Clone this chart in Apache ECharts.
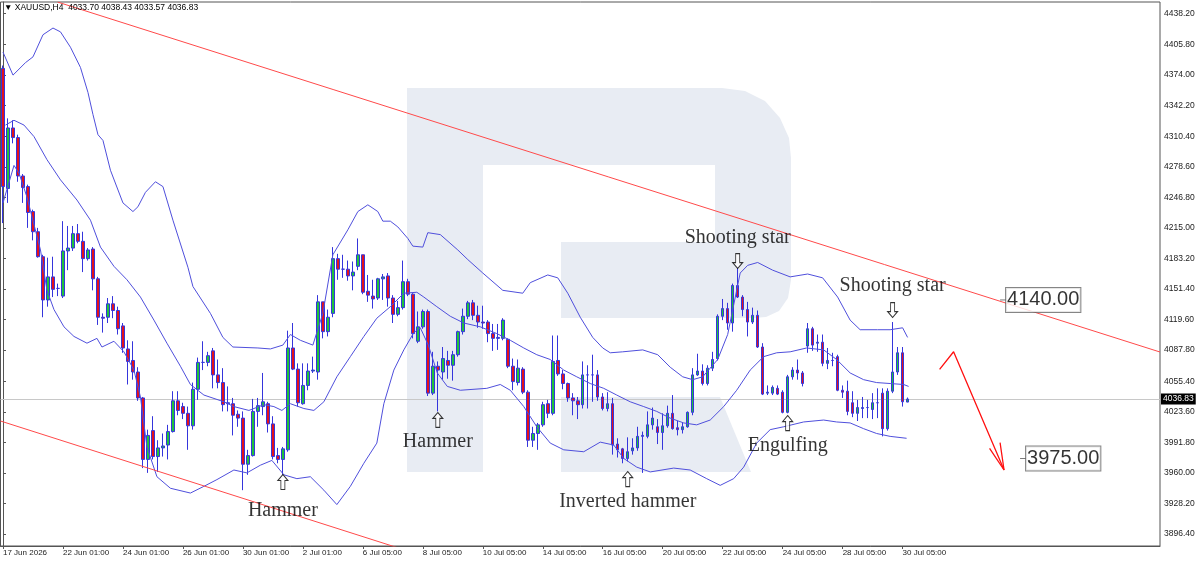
<!DOCTYPE html>
<html><head><meta charset="utf-8">
<script src="https://cdn.jsdelivr.net/npm/echarts@6/dist/echarts.min.js"></script>
<style>html,body{margin:0;padding:0;background:#fff}#c{width:1200px;height:561px}</style>
</head><body><div id="c"></div>
<script>
const symbolName = 'XAUUSD,H4';
const opens = [4381,4256,4319,4309,4269,4258,4232,4211,4185,4140,4164,4152,4144,4191,4194,4209,4201,4183,4193,4162,
4122,4122,4136,4129,4113,4089,4077,4065,4038,3974,4004,3977,3986,3989,4003,4035,4029,4022,4009,4047,
4075,4075,4087,4062,4054,4032,4032,4021,4017,3969,3978,4024,4029,4032,4011,3978,3974,3984,4090,4068,
4032,4051,4066,4065,4138,4107,4126,4183,4172,4172,4165,4175,4187,4149,4144,4142,4162,4165,4142,4125,
4132,4159,4146,4097,4112,4128,4043,4071,4065,4077,4072,4083,4107,4123,4137,4124,4117,4117,4105,4100,
4100,4099,4071,4054,4068,4044,3994,4001,4010,4032,4022,4077,4063,4053,4038,4035,4031,4062,4062,4062,
4039,4027,4032,3990,3985,3975,3983,3986,3998,3998,4010,4008,4002,4009,4022,4007,4005,4008,4023,4062,
4066,4053,4069,4079,4123,4131,4116,4155,4143,4130,4117,4124,4091,4043,4043,4048,4044,4023,4060,4067,
4064,4092,4110,4095,4096,4074,4077,4081,4046,4045,4033,4022,4027,4028,4026,4033,4043,4006,4045,4065,
4085,4033.70];
const closes = [4258,4319,4309,4269,4257,4231,4211,4185,4140,4164,4151,4152,4191,4194,4209,4201,4183,4192,4162,4122,
4121,4136,4129,4110,4090,4076,4065,4038,3974,3999,3977,3986,3988,4003,4035,4025,4022,4009,4047,4075,
4075,4082,4062,4054,4031,4033,4020,4017,3969,3978,4024,4030,4034,4011,3977,3974,3985,4090,4068,4033,
4051,4066,4067,4138,4107,4122,4183,4172,4172,4165,4169,4187,4148,4145,4141,4162,4164,4142,4125,4132,
4159,4146,4105,4112,4128,4043,4071,4067,4079,4072,4083,4107,4123,4137,4124,4117,4116,4105,4100,4101,
4119,4071,4055,4069,4044,3994,4001,4010,4031,4022,4076,4063,4053,4038,4035,4031,4062,4062,4062,4039,
4027,4032,3989,3984,3975,3982,3986,3998,3999,4010,4017,4002,4009,4022,4006,4005,4008,4023,4062,4066,
4053,4069,4078,4123,4131,4116,4155,4143,4130,4117,4124,4091,4042,4044,4049,4042,4023,4060,4067,4064,
4053,4110,4093,4096,4074,4077,4077,4046,4044,4024,4022,4028,4028,4028,4033,4033,4006,4045,4065,4085,
4034,4036.83];
const lows = [4220,4241,4303,4263,4241,4215,4202,4184,4122,4133,4143,4144,4142,4171,4191,4199,4169,4181,4150,4114,
4106,4116,4121,4104,4085,4052,4057,4035,3965,3960,3974,3961,3977,3974,4002,4020,4016,3984,4005,4036,
4067,4071,4048,4048,4024,4024,3999,4008,3942,3958,3977,4008,4020,4002,3974,3970,3958,3982,4067,4029,
4031,4046,4064,4057,4100,4102,4122,4161,4163,4160,4150,4171,4146,4138,4131,4140,4140,4133,4116,4123,
4130,4144,4100,4095,4110,4040,4041,4024,4057,4058,4056,4081,4104,4120,4119,4111,4110,4096,4087,4088,
4098,4069,4046,4051,4042,3987,3987,3984,4008,4017,4020,4061,4047,4034,4020,4016,4027,4027,4034,4035,
4025,4024,3979,3976,3970,3972,3979,3983,3960,3996,4005,3990,3984,4007,4005,3999,4001,4007,4020,4061,
4051,4051,4066,4077,4119,4109,4107,4142,4123,4102,4115,4090,4041,4041,4041,4041,4022,4022,4057,4057,
4050,4085,4087,4086,4071,4068,4071,4045,4038,4020,4018,4014,4017,4017,4016,4017,3998,4004,4043,4062,
4029,4033.57];
const highs = [4384,4329,4327,4312,4271,4260,4234,4215,4187,4184,4185,4157,4222,4217,4217,4219,4211,4194,4195,4164,
4126,4142,4144,4133,4116,4098,4097,4070,4039,4005,4019,3994,4001,4010,4045,4045,4033,4029,4054,4080,
4097,4086,4090,4078,4069,4050,4038,4025,4024,3984,4037,4038,4064,4034,4019,3986,3987,4108,4116,4074,
4074,4074,4081,4145,4138,4130,4195,4188,4187,4181,4180,4204,4187,4166,4161,4163,4167,4168,4145,4139,
4181,4162,4147,4128,4130,4130,4086,4076,4091,4087,4087,4108,4131,4139,4140,4134,4134,4119,4115,4115,
4121,4100,4079,4078,4070,4046,4008,4012,4034,4036,4103,4103,4067,4054,4043,4039,4076,4072,4083,4067,
4043,4044,4038,3996,3986,3997,3996,4008,4003,4024,4028,4016,4022,4030,4041,4014,4012,4024,4069,4084,
4073,4072,4086,4125,4141,4137,4157,4174,4145,4138,4132,4129,4095,4051,4051,4051,4046,4062,4070,4078,
4066,4116,4112,4104,4104,4090,4085,4083,4051,4056,4045,4036,4039,4036,4043,4048,4048,4048,4117,4091,
4091,4038.43];
const xTickBars = [0,12,24,36,48,60,72,84,96,108,120,132,144,156,168,180];
const xTickLabels = ['17 Jun 2026','22 Jun 01:00','24 Jun 01:00','26 Jun 01:00','30 Jun 01:00','2 Jul 01:00',
'6 Jul 05:00','8 Jul 05:00','10 Jul 05:00','14 Jul 05:00','16 Jul 05:00','20 Jul 05:00','22 Jul 05:00',
'24 Jul 05:00','28 Jul 05:00','30 Jul 05:00'];
const yTicks = [3896.40,3928.20,3960.00,3991.80,4023.60,4055.40,4087.80,4119.60,4151.40,4183.20,4215.00,
4246.80,4278.60,4310.40,4342.20,4374.00,4405.80,4438.20];
const bbUpper = [[0,4398],[2,4374],[4.5,4387],[6,4393],[8,4416],[10,4423],[11.5,4419],[13.5,4403],[15.5,4382],[17,4356],[18,4333],[19,4312],[20,4306],[21.5,4275],[24,4241],[26,4232],[27,4237],[28.5,4252],[30.5,4263],[32,4258],[34,4223],[37,4174],[38,4154],[41.5,4126],[44,4101],[46,4091],[51,4090],[53.5,4089],[56,4093],[57.5,4104],[59.5,4098],[62,4093],[64,4126],[66,4187],[69,4213],[71,4232],[73,4239],[75,4232],[76,4222],[77.5,4222],[79,4216],[81,4204],[82,4196],[84,4195],[85,4210],[87.5,4208],[91,4192],[93,4182],[96,4168],[100,4150],[104,4147],[105.5,4158],[109,4166],[111,4163],[113,4147],[115.5,4122],[118,4101],[120,4090],[121.5,4085],[124,4086],[128,4088],[131,4083],[133.5,4070],[136,4060],[138,4057],[140,4060],[143,4078],[145,4104],[147.5,4168],[149,4176],[151,4179],[154,4171],[157.5,4164],[161,4167],[164,4163],[167,4143],[169.5,4119],[171.5,4109],[175,4109],[177.5,4109],[180,4111],[181,4101]];
const bbMiddle = [[0.5,4322],[2.2,4327],[4.2,4322],[6.2,4310],[8.8,4286],[11.5,4265],[14.8,4244],[17.5,4223],[19.5,4195],[22.2,4175],[24.8,4161],[27.5,4143],[30.2,4119],[32.8,4095],[35.5,4071],[37.5,4052],[40.2,4041],[44.2,4034],[46.2,4029],[49.2,4025],[52.2,4031],[54.2,4029],[55.8,4025],[57.5,4032],[60.2,4027],[62.2,4025],[64.2,4034],[66.8,4060],[69.5,4081],[72.2,4102],[74.8,4121],[77.5,4133],[80.2,4147],[82.8,4148],[84.2,4143],[86.8,4133],[89.5,4123],[92.2,4116],[95.5,4112],[98.8,4105],[101.5,4098],[104.2,4090],[106.8,4083],[109.5,4078],[112.2,4067],[114.8,4060],[117.5,4053],[120.2,4048],[122.8,4041],[125.5,4034],[128.2,4029],[130.8,4024],[133.5,4017],[136.2,4012],[138.8,4010],[141.5,4015],[144.2,4029],[146.8,4046],[149.5,4067],[152.2,4081],[154.8,4085],[157.5,4086],[160.8,4090],[164.2,4088],[166.8,4078],[169.5,4064],[172.2,4057],[174.8,4054],[177.5,4053],[180.2,4052],[181.2,4050]];
const bbLower = [[0,4241],[2.2,4280],[3.2,4272],[4.8,4247],[7.5,4192],[8.8,4150],[10.2,4130],[12.2,4112],[14.2,4102],[16.8,4095],[18.8,4100],[19.8,4091],[22.2,4097],[24.2,4086],[26.2,4067],[27.5,4039],[28.8,3987],[30.8,3956],[33.5,3944],[37.5,3939],[40.2,3946],[42.8,3953],[46.2,3963],[48.8,3960],[51.5,3968],[53.8,3973],[56.2,3958],[58.8,3954],[61.5,3956],[64.2,3942],[66.8,3927],[69.5,3946],[72.2,3970],[74.8,3991],[76.2,4032],[78.2,4067],[80.2,4088],[82.2,4106],[83.5,4111],[85.1,4093],[86.9,4064],[88.9,4050],[91.5,4046],[96.8,4048],[99.5,4052],[101.5,4046],[104.2,4029],[106.8,4008],[109.5,3991],[112.2,3984],[116.2,3982],[119.5,3992],[122.2,3989],[124.2,3975],[126.8,3966],[129.5,3961],[134.2,3965],[137.5,3963],[140.8,3954],[143.5,3947],[146.2,3954],[148.2,3966],[150.8,3991],[153.5,4005],[156.2,4008],[160.2,4013],[164.2,4015],[166.8,4013],[169.5,4012],[172.2,4006],[174.8,4001],[177.5,3998],[180.8,3996]];
const channelUpper = [[10.9,4450.1],[231.5,4085.8]];
const channelLower = [[-0.5,4014],[90,3863.8]];
const forecastPath = [[187.4,4067.8],[190.2,4086.1],[200.3,3963.0]];
const forecastHead = [[197.4,3985.6],[200.3,3963.0],[199.5,3991.4]];
const levelMarks = [[200.1,4140.00],[204.1,3975.00]];
const patternNames = ['Hammer','Hammer','Inverted hammer','Engulfing','Shooting star','Shooting star'];
const patternBars = [56,87,125,157,147,178];
const patternTextPrices = [3920.3,3992.2,3929.7,3988.0,4204.5,4154.5];
const patternArrowPrices = [3950.5,4015.1,3953.6,4011.9,4180.5,4129.5];
const patternArrowDir = ['up','up','up','up','down','down'];
const lastPrice = 4036.83;
const totalSlots = 232;

const categories = [];
for (let i = 0; i < totalSlots; i++) categories.push('');
xTickBars.forEach((b, k) => { categories[b] = xTickLabels[k]; });
const candles = opens.map((o, i) => [o, closes[i], lows[i], highs[i]]);
const last = candles.length - 1;
const header = '\u25BC ' + symbolName + '  ' + opens[last].toFixed(2) + ' ' + highs[last].toFixed(2) + ' ' +
  lows[last].toFixed(2) + ' ' + closes[last].toFixed(2);

const tickFn = (idx, val) => val !== '';
const AXC = '#555';
const BANDC = '#4f4fdc';
const arrowPath = 'path://M5,0 L10,6 L7,6 L7,15 L3,15 L3,6 L0,6 Z';
const LOGO = '#e8ecf3';
const bowl = [[483,88],[722,88],[745,91],[765,101],[780,118],[789,138],[791,158],[791,280],[788,298],[779,311],[766,317],[753,318],
  [561,318],[561,242],[715,242],[715,165],[483,165]];

const chart = echarts.init(document.getElementById('c'), null, {renderer: 'canvas'});
chart.setOption({
  animation: false,
  backgroundColor: '#fff',
  title: {text: header, left: 4, top: 3, padding: 0,
    textStyle: {fontSize: 8.5, fontWeight: 'normal', color: '#000', fontFamily: 'Liberation Sans'}},
  graphic: [
    {type: 'rect', silent: true, z: -10, shape: {x: 407, y: 88, width: 76, height: 384}, style: {fill: LOGO}},
    {type: 'polygon', silent: true, z: -10, shape: {points: bowl}, style: {fill: LOGO}},
    {type: 'polygon', silent: true, z: -10, shape: {points: [[561,397],[720,397],[751,472],[561,472]]}, style: {fill: LOGO}}
  ],
  grid: {left: 0, right: 40, top: 2, bottom: 15, show: true, borderColor: AXC, borderWidth: 1, backgroundColor: 'transparent'},
  xAxis: [{
    type: 'category', data: categories, boundaryGap: true,
    axisLine: {show: true, lineStyle: {color: AXC}},
    axisTick: {show: true, alignWithLabel: true, interval: tickFn, length: 3, lineStyle: {color: AXC}},
    axisLabel: {interval: tickFn, align: 'left', fontSize: 8, color: '#222', margin: 3, fontFamily: 'Liberation Sans'},
    splitLine: {show: false}
  }, {
    type: 'value', min: -0.5, max: totalSlots - 0.5, show: false
  }],
  yAxis: {
    type: 'value', position: 'right', min: 3883.9, max: 4450.1, scale: true,
    axisLine: {show: true, lineStyle: {color: AXC}},
    axisTick: {show: true, length: 3, customValues: yTicks, lineStyle: {color: AXC}},
    axisLabel: {customValues: yTicks, formatter: v => v.toFixed(2), fontSize: 8.5, color: '#222', margin: 4, fontFamily: 'Liberation Sans'},
    splitLine: {show: false}
  },
  series: [
    {
      type: 'candlestick', xAxisIndex: 0, data: candles, barWidth: 3, z: 3,
      itemStyle: {color: '#22c23c', color0: '#e3121c', borderColor: '#3535dc', borderColor0: '#3535dc', borderColorDoji: '#3535dc', borderWidth: 1},
      markLine: {
        silent: true, symbol: ['none', 'none'], z: 1,
        lineStyle: {color: '#c8c8c8', width: 1, type: 'solid'},
        label: {show: true, position: 'end', distance: 1, formatter: () => lastPrice.toFixed(2),
          backgroundColor: '#000', color: '#fff', fontSize: 8.5, padding: [1, 2, 1, 2], fontFamily: 'Liberation Sans'},
        data: [{yAxis: lastPrice}]
      }
    },
    {type: 'line', xAxisIndex: 1, data: bbUpper, showSymbol: false, silent: true, z: 4, lineStyle: {color: BANDC, width: 1}},
    {type: 'line', xAxisIndex: 1, data: bbMiddle, showSymbol: false, silent: true, z: 4, lineStyle: {color: BANDC, width: 1}},
    {type: 'line', xAxisIndex: 1, data: bbLower, showSymbol: false, silent: true, z: 4, lineStyle: {color: BANDC, width: 1}},
    {type: 'line', xAxisIndex: 1, data: channelUpper, showSymbol: false, silent: true, z: 5, lineStyle: {color: '#ff4a4a', width: 1}},
    {type: 'line', xAxisIndex: 1, data: channelLower, showSymbol: false, silent: true, z: 5, lineStyle: {color: '#ff4a4a', width: 1}},
    {type: 'line', xAxisIndex: 1, data: forecastPath, showSymbol: false, silent: true, z: 5, lineStyle: {color: '#ff1010', width: 1.3}},
    {type: 'line', xAxisIndex: 1, data: forecastHead, showSymbol: false, silent: true, z: 5, lineStyle: {color: '#ff1010', width: 1.3}},
    {
      type: 'scatter', xAxisIndex: 1, silent: true, z: 6,
      symbol: 'rect', symbolSize: [6, 1], itemStyle: {color: '#555'},
      data: levelMarks,
      label: {show: true, position: 'right', distance: 0, formatter: p => p.value[1].toFixed(2),
        fontSize: 20, fontFamily: 'Liberation Sans', color: '#000', backgroundColor: '#fff',
        borderColor: '#666', borderWidth: 1, padding: [2, 1, 0, 1], lineHeight: 22}
    },
    {
      type: 'scatter', xAxisIndex: 1, silent: true, z: 6,
      symbol: 'circle', symbolSize: 1, itemStyle: {color: 'rgba(0,0,0,0)'},
      data: patternNames.map((n, k) => ({name: n, value: [patternBars[k], patternTextPrices[k]]})),
      label: {show: true, position: 'inside', formatter: '{b}', fontSize: 20, fontFamily: 'Liberation Serif', color: '#000'}
    },
    {
      type: 'scatter', xAxisIndex: 1, silent: true, z: 6,
      symbol: arrowPath, symbolSize: [10, 15],
      itemStyle: {color: '#fff', borderColor: '#000', borderWidth: 1},
      data: patternBars.map((b, k) => ({value: [b, patternArrowPrices[k]], symbolRotate: patternArrowDir[k] === 'down' ? 180 : 0}))
    }
  ]
});
</script>
</body></html>
